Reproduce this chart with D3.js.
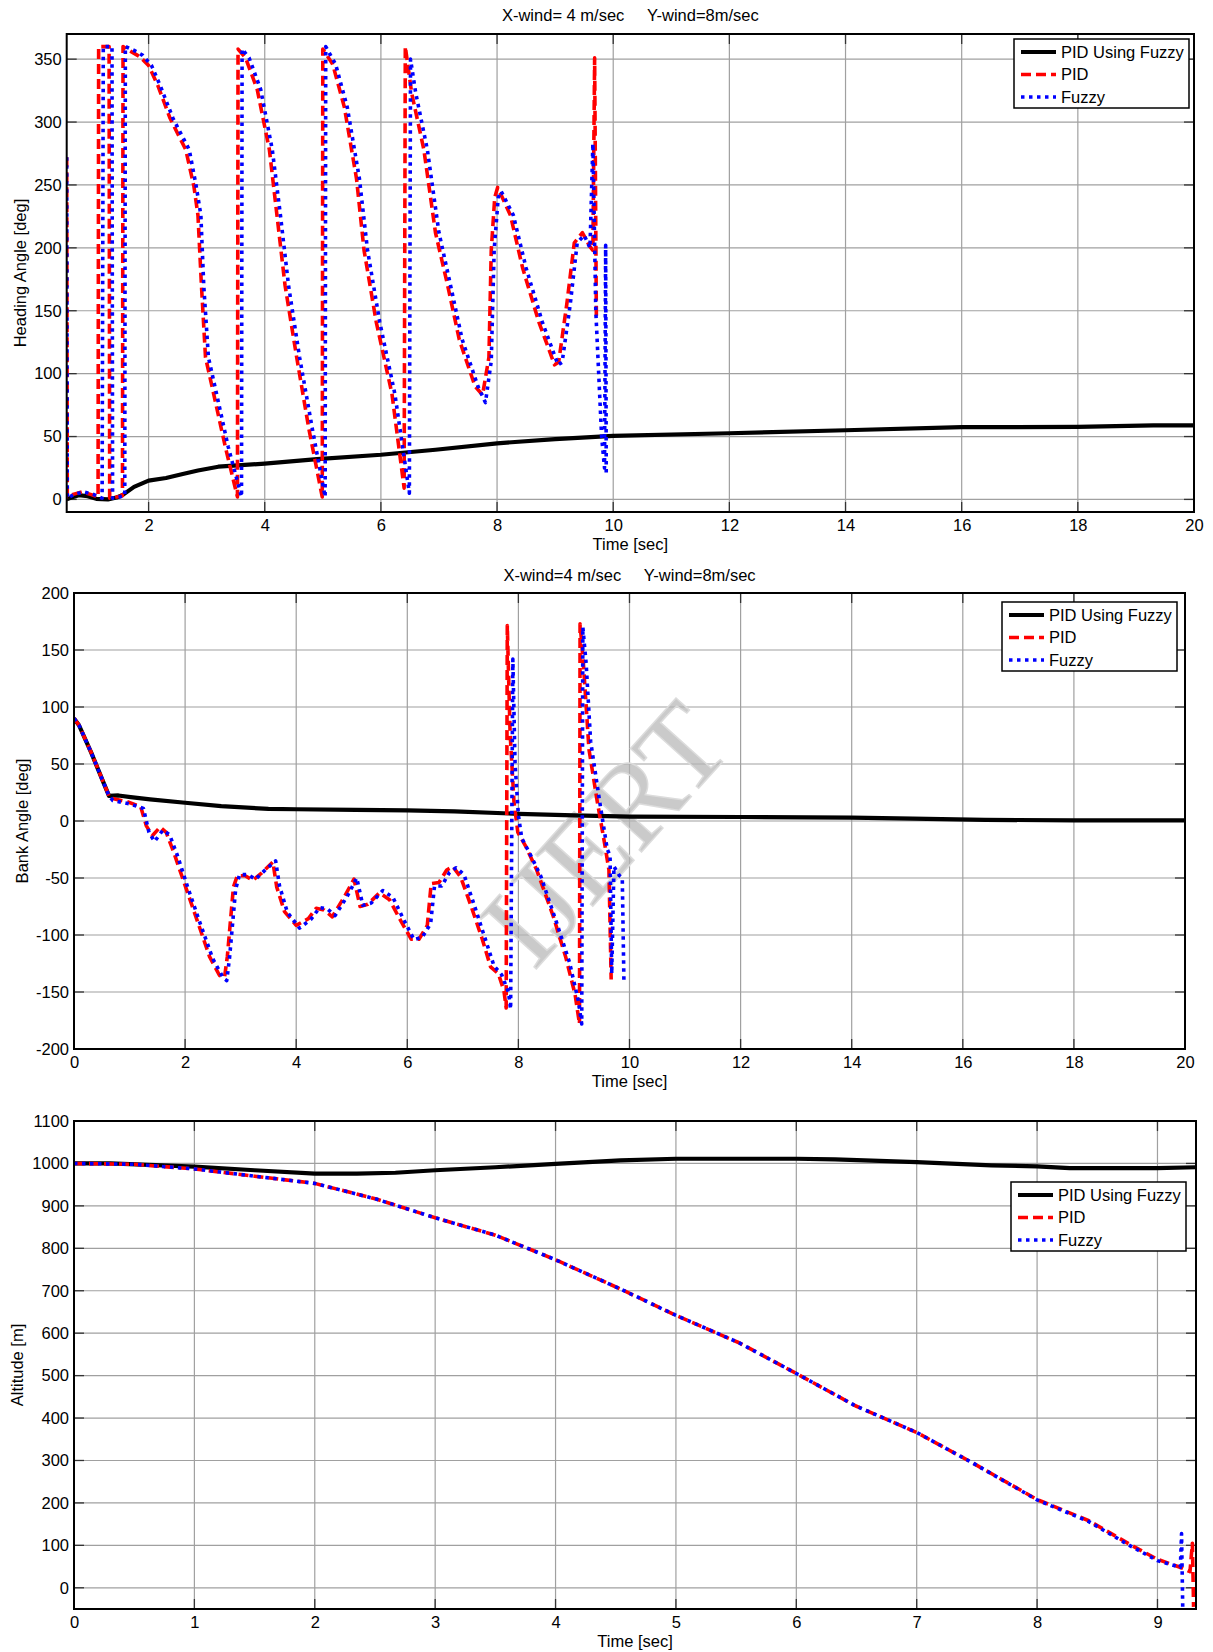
<!DOCTYPE html>
<html>
<head>
<meta charset="utf-8">
<script src="https://cdn.jsdelivr.net/npm/d3@7"></script>
<style>
  body { margin: 0; background: #fff; }
  svg text { font-family: "Liberation Sans", Arial, sans-serif; }
</style>
</head>
<body>
<div id="fig"></div>
<script>
// figure: heading / bank / altitude, three controllers

const seriesNames = ["PID Using Fuzzy", "PID", "Fuzzy"];

// --- heading angle [deg] vs time [sec]
const headingPidFuzzy = [[0.59,0],[0.7,2],[0.8,3.4],[0.95,2.5],[1.1,0.5],[1.3,0],[1.45,1.5],[1.55,3.4],[1.75,10],[2,15],[2.3,17],[2.57,20],[2.85,23],[3.2,26],[3.53,27],[4,28.5],[4.9,32],[6,35.5],[6.94,39.5],[8,44.6],[9,48],[10,50.5],[12,52.6],[14,55],[16,57.4],[18,57.7],[19.3,58.8],[20,58.8]];
const headingPid = [[0.59,272],[0.6,2],[0.7,4],[0.85,6],[1.0,4],[1.13,2],[1.14,360],[1.32,360],[1.33,1],[1.45,2],[1.55,3],[1.56,360],[1.7,356],[1.85,352],[2,345],[2.16,329],[2.37,303],[2.64,278],[2.78,249],[2.85,226],[2.91,170],[2.98,113],[3.12,84],[3.32,42],[3.53,2],[3.54,358],[3.67,351],[3.87,326],[4.08,278],[4.21,226],[4.35,170],[4.55,113],[4.76,56],[4.99,2],[5.0,358],[5.17,346],[5.37,312],[5.58,255],[5.71,198],[5.92,141],[6.19,84],[6.4,9],[6.42,360],[6.53,323],[6.74,278],[6.94,212],[7.15,170],[7.35,127],[7.62,90],[7.75,83],[7.86,113],[7.9,198],[7.96,240],[8.01,248],[8.23,226],[8.44,184],[8.72,141],[8.99,107],[9.06,109],[9.2,155],[9.33,204],[9.47,212],[9.6,201],[9.65,198],[9.68,351],[9.71,145]];
const headingFuzzy = [[0.59,272],[0.6,1],[0.72,4],[0.88,6],[1.05,4],[1.2,1],[1.22,360],[1.37,360],[1.38,1],[1.5,2],[1.59,3],[1.6,360],[1.75,357],[1.9,353],[2.05,345],[2.2,329],[2.42,303],[2.7,278],[2.82,249],[2.9,226],[2.95,170],[3.03,113],[3.17,84],[3.37,42],[3.6,2],[3.61,358],[3.73,351],[3.93,326],[4.13,278],[4.27,226],[4.41,170],[4.6,113],[4.82,56],[5.04,2],[5.05,360],[5.22,346],[5.42,312],[5.63,255],[5.77,198],[5.98,141],[6.24,84],[6.49,5],[6.51,350],[6.6,323],[6.8,278],[7.0,212],[7.2,170],[7.4,127],[7.67,90],[7.8,77],[7.9,110],[7.95,198],[8.02,240],[8.07,245],[8.28,226],[8.5,184],[8.78,141],[9.05,107],[9.12,109],[9.26,155],[9.38,204],[9.5,210],[9.6,200],[9.65,283],[9.7,150],[9.75,100],[9.8,50],[9.85,25],[9.87,202],[9.88,18]];

// --- bank angle [deg] vs time [sec]
const bankPidFuzzy = [[0,90],[0.09,84],[0.31,60],[0.52,35],[0.63,22],[0.8,22.4],[1.02,21],[1.37,19],[2,16],[2.65,13],[3.5,10.6],[4,10.3],[5.07,9.7],[6,9.4],[6.85,8.5],[8,6.3],[9,5],[10,3.8],[12,3.5],[14,3],[15.1,2],[16.4,1],[18,0.6],[20,0.5]];
const bankPid = [[0,90],[0.09,84],[0.31,60],[0.52,35],[0.63,22],[0.66,20],[0.95,17],[1.2,12.7],[1.3,-4],[1.41,-13],[1.55,-5.4],[1.66,-10],[1.8,-28],[2.01,-58],[2.23,-89],[2.44,-119],[2.62,-135.5],[2.71,-137],[2.76,-119],[2.87,-58],[2.94,-48],[3.08,-48],[3.22,-52],[3.37,-46],[3.58,-36],[3.65,-58],[3.79,-79.5],[4,-91.6],[4.22,-85.6],[4.36,-76.5],[4.5,-78],[4.65,-84],[4.86,-67],[5.04,-51],[5.15,-75],[5.29,-73],[5.5,-63],[5.68,-69],[5.86,-85.6],[6.07,-103.7],[6.21,-103.7],[6.36,-91.6],[6.43,-55],[6.57,-54],[6.71,-43],[6.82,-40],[6.96,-49],[7.14,-73.5],[7.35,-103.7],[7.5,-128],[7.64,-134],[7.74,-149],[7.78,-164],[7.8,171.5],[7.85,78],[7.92,17],[7.99,-10],[8.13,-22],[8.33,-43],[8.62,-82.5],[8.85,-119],[9.02,-152],[9.1,-178],[9.11,173],[9.17,138],[9.27,63],[9.42,17],[9.56,-22],[9.63,-43],[9.67,-139]];
const bankFuzzy = [[0,90],[0.09,84],[0.31,60],[0.52,35],[0.63,22],[0.7,18],[1.0,15],[1.25,11],[1.35,-10],[1.45,-18],[1.6,-8],[1.72,-12],[1.86,-30],[2.06,-60],[2.28,-91],[2.5,-121],[2.68,-137],[2.75,-140],[2.8,-120],[2.91,-60],[2.98,-47],[3.12,-47],[3.27,-51],[3.42,-44],[3.63,-35],[3.7,-57],[3.84,-80],[4.06,-94],[4.27,-86],[4.42,-76],[4.56,-77],[4.7,-83],[4.92,-66],[5.09,-50],[5.2,-74],[5.35,-72],[5.56,-61],[5.74,-67],[5.92,-85],[6.12,-104],[6.27,-102],[6.42,-90],[6.49,-57],[6.62,-57],[6.76,-45],[6.88,-41],[7.02,-47],[7.2,-73],[7.4,-103],[7.56,-127],[7.7,-135],[7.82,-150],[7.86,-165],[7.9,142],[7.94,50],[8.0,5],[8.06,-15],[8.2,-28],[8.4,-48],[8.68,-88],[8.92,-124],[9.08,-158],[9.14,-178],[9.16,170],[9.22,138],[9.3,70],[9.46,18],[9.6,-25],[9.65,-30],[9.68,-134],[9.72,-40],[9.82,-48],[9.87,-50],[9.9,-142]];

// --- altitude [m] vs time [sec]
const altPidFuzzy = [[0,1000],[0.3,1000],[1,992.5],[1.5,984],[2,976],[2.35,976],[2.67,978],[3,984],[3.5,991],[4,999],[4.54,1007],[5,1011],[6,1011],[6.32,1009.7],[7,1003],[7.62,995.5],[8,993],[8.27,989],[9,989],[9.32,991]];
const altPid = [[0,1000],[0.5,998],[1,987],[1.5,970],[2,953],[2.51,916],[3,872],[3.5,831],[4,773],[4.54,704],[5,642],[5.52,578],[6,505],[6.49,429],[7,366],[7.46,295],[8,208],[8.43,158],[8.76,104],[9,67],[9.21,46],[9.27,38],[9.29,105],[9.3,-45]];
const altFuzzy = [[0,1000],[0.5,998],[1,987],[1.5,970],[2,953],[2.51,916],[3,872],[3.5,831],[4,773],[4.54,704],[5,642],[5.52,578],[6,505],[6.49,429],[7,366],[7.46,295],[8,207],[8.43,156],[8.76,101],[9,64],[9.19,48],[9.2,128],[9.21,-50]];

// tick labels
const headingXTicks = [2,4,6,8,10,12,14,16,18,20];
const headingYTicks = [0,50,100,150,200,250,300,350];
const bankXTicks = [0,2,4,6,8,10,12,14,16,18,20];
const bankYTicks = [-200,-150,-100,-50,0,50,100,150,200];
const altXTicks = [0,1,2,3,4,5,6,7,8,9];
const altYTicks = [0,100,200,300,400,500,600,700,800,900,1000,1100];

const W = 1213, H = 1652;
const FS = "16.5px";

const styles = [
  { color: "#000", width: 4.2, dash: null },
  { color: "#ff0000", width: 3.6, dash: "10,5" },
  { color: "#0000ff", width: 3.6, dash: "3.5,4.5" }
];

const svg = d3.select("#fig").append("svg")
  .attr("width", W).attr("height", H);

const panels = [
  {
    box: [66.7, 34, 1194, 512], xDomain: [0.59, 20], yDomain: [-10, 370],
    xTicks: headingXTicks, yTicks: headingYTicks,
    ylabel: "Heading Angle [deg]", ylabelX: 20,
    title: "X-wind= 4 m/sec     Y-wind=8m/sec", titleY: 21,
    series: [headingPidFuzzy, headingPid, headingFuzzy], legend: [1014, 39]
  },
  {
    box: [74, 593, 1185, 1049], xDomain: [0, 20], yDomain: [-200, 200],
    xTicks: bankXTicks, yTicks: bankYTicks,
    ylabel: "Bank Angle [deg]", ylabelX: 22,
    title: "X-wind=4 m/sec     Y-wind=8m/sec", titleY: 581,
    series: [bankPidFuzzy, bankPid, bankFuzzy], legend: [1002, 602],
    watermark: true
  },
  {
    box: [74, 1121, 1196, 1609], xDomain: [0, 9.32], yDomain: [-50, 1100],
    xTicks: altXTicks, yTicks: altYTicks,
    ylabel: "Altitude [m]", ylabelX: 17,
    title: null,
    series: [altPidFuzzy, altPid, altFuzzy], legend: [1011, 1182]
  }
];

panels.forEach((p, idx) => {
  const [x0, y0, x1, y1] = p.box;
  const x = d3.scaleLinear().domain(p.xDomain).range([x0, x1]);
  const y = d3.scaleLinear().domain(p.yDomain).range([y1, y0]);
  const g = svg.append("g");

  // grid
  g.selectAll(".vgrid").data(p.xTicks).enter().append("line")
    .attr("x1", d => x(d)).attr("x2", d => x(d))
    .attr("y1", y0).attr("y2", y1)
    .attr("stroke", "#a0a0a0").attr("stroke-width", 1.2);
  g.selectAll(".hgrid").data(p.yTicks).enter().append("line")
    .attr("x1", x0).attr("x2", x1)
    .attr("y1", d => y(d)).attr("y2", d => y(d))
    .attr("stroke", "#a0a0a0").attr("stroke-width", 1.2);

  // inner ticks on all four sides
  const tl = 10;
  p.xTicks.forEach(t => {
    g.append("line").attr("x1", x(t)).attr("x2", x(t)).attr("y1", y1).attr("y2", y1 - tl)
      .attr("stroke", "#333").attr("stroke-width", 1.3);
    g.append("line").attr("x1", x(t)).attr("x2", x(t)).attr("y1", y0).attr("y2", y0 + tl)
      .attr("stroke", "#333").attr("stroke-width", 1.3);
  });
  p.yTicks.forEach(t => {
    g.append("line").attr("x1", x0).attr("x2", x0 + tl).attr("y1", y(t)).attr("y2", y(t))
      .attr("stroke", "#333").attr("stroke-width", 1.3);
    g.append("line").attr("x1", x1).attr("x2", x1 - tl).attr("y1", y(t)).attr("y2", y(t))
      .attr("stroke", "#333").attr("stroke-width", 1.3);
  });

  // tick labels via d3 axes (plain hyphen minus like the original)
  const fmt = d => String(d);
  const xAxis = g.append("g").attr("transform", `translate(0,${y1})`)
    .call(d3.axisBottom(x).tickValues(p.xTicks).tickSize(0).tickPadding(7).tickFormat(fmt));
  const yAxis = g.append("g").attr("transform", `translate(${x0},0)`)
    .call(d3.axisLeft(y).tickValues(p.yTicks).tickSize(0).tickPadding(5).tickFormat(fmt));
  [xAxis, yAxis].forEach(a => {
    a.select(".domain").remove();
    a.selectAll("text").style("font-size", FS)
      .style("font-family", '"Liberation Sans", Arial, sans-serif').style("fill", "#000");
  });

  // watermark
  if (p.watermark) {
    g.append("text")
      .attr("transform", "translate(614,842) rotate(-48)")
      .attr("text-anchor", "middle")
      .attr("dominant-baseline", "middle")
      .style("font-family", '"Liberation Serif", "DejaVu Serif", serif')
      .style("font-size", "118px")
      .style("fill", "#b4b4b4")
      .style("fill-opacity", 0.7)
      .style("stroke", "#dcdcdc")
      .style("stroke-width", 1.5)
      .text("IJERT");
  }

  // series
  const clipId = "clip" + idx;
  svg.append("defs").append("clipPath").attr("id", clipId)
    .append("rect").attr("x", x0).attr("y", y0).attr("width", x1 - x0).attr("height", y1 - y0);
  const line = d3.line().x(d => x(d[0])).y(d => y(d[1]));
  const sg = g.append("g").attr("clip-path", `url(#${clipId})`);
  p.series.forEach((s, i) => {
    sg.append("path").datum(s)
      .attr("d", line)
      .attr("fill", "none")
      .attr("stroke", styles[i].color)
      .attr("stroke-width", styles[i].width)
      .attr("stroke-linejoin", "round")
      .attr("stroke-dasharray", styles[i].dash);
  });

  // box
  g.append("rect").attr("x", x0).attr("y", y0).attr("width", x1 - x0).attr("height", y1 - y0)
    .attr("fill", "none").attr("stroke", "#000").attr("stroke-width", 2);

  // labels
  g.append("text").attr("x", (x0 + x1) / 2).attr("y", y1 + 38)
    .attr("text-anchor", "middle").style("font-size", FS).style("fill", "#000").text("Time [sec]");
  g.append("text")
    .attr("transform", `translate(${p.ylabelX},${(y0 + y1) / 2}) rotate(-90)`)
    .attr("text-anchor", "middle").attr("dy", "0.35em")
    .style("font-size", FS).style("fill", "#000").text(p.ylabel);
  if (p.title) {
    g.append("text").attr("x", (x0 + x1) / 2).attr("y", p.titleY)
      .attr("text-anchor", "middle").style("font-size", FS).style("fill", "#000")
      .style("white-space", "pre").attr("xml:space", "preserve")
      .text(p.title);
  }

  // legend
  const [lx, ly] = p.legend;
  const lg = g.append("g").attr("transform", `translate(${lx},${ly})`);
  lg.append("rect").attr("width", 175).attr("height", 69)
    .attr("fill", "#fff").attr("stroke", "#000").attr("stroke-width", 1.5);
  seriesNames.forEach((name, i) => {
    const ry = 13 + i * 22.5;
    lg.append("line").attr("x1", 7).attr("x2", 42).attr("y1", ry).attr("y2", ry)
      .attr("stroke", styles[i].color).attr("stroke-width", styles[i].width)
      .attr("stroke-dasharray", styles[i].dash);
    lg.append("text").attr("x", 47).attr("y", ry).attr("dy", "0.35em")
      .style("font-size", FS).style("fill", "#000").text(name);
  });
});
</script>
</body>
</html>
